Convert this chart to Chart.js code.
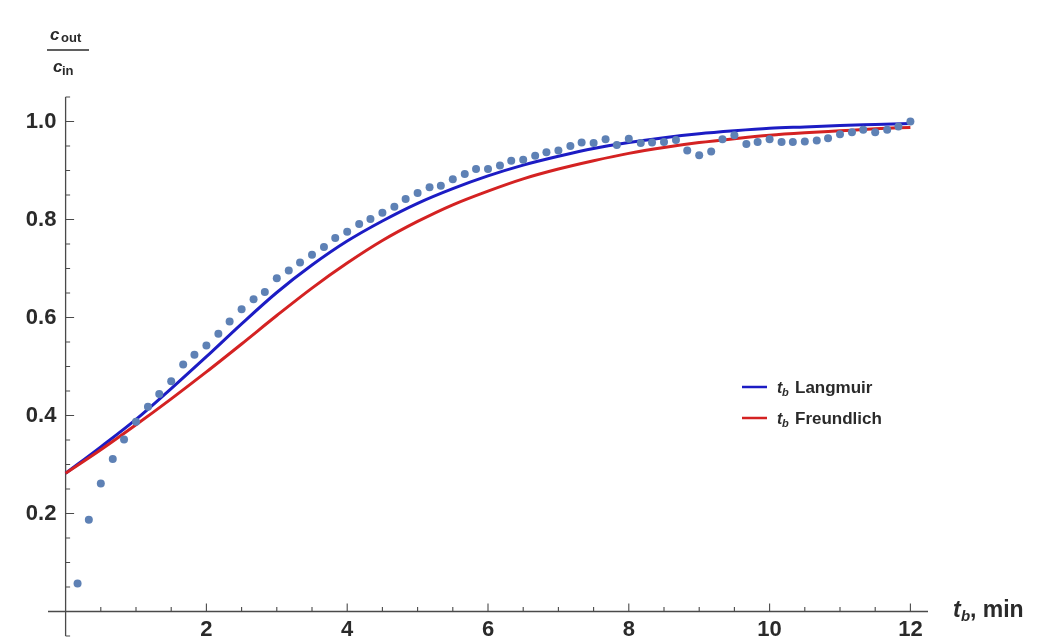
<!DOCTYPE html>
<html>
<head>
<meta charset="utf-8">
<script src="https://cdn.jsdelivr.net/npm/chart.js@4/dist/chart.umd.min.js"></script>
<style>
  html, body { margin: 0; padding: 0; background: #fff; }
  #wrap { width: 1051px; height: 640px; position: relative; }
</style>
</head>
<body>
<div id="wrap"><canvas id="chart" width="1051" height="640"></canvas></div>
<script>
// measured breakthrough points (t in min, c_out/c_in)
const pointTime = [0.17, 0.33, 0.5, 0.67, 0.83, 1.0, 1.17, 1.33, 1.5, 1.67, 1.83, 2.0, 2.17, 2.33, 2.5, 2.67, 2.83, 3.0,
  3.17, 3.33, 3.5, 3.67, 3.83, 4.0, 4.17, 4.33, 4.5, 4.67, 4.83, 5.0, 5.17, 5.33, 5.5, 5.67, 5.83, 6.0,
  6.17, 6.33, 6.5, 6.67, 6.83, 7.0, 7.17, 7.33, 7.5, 7.67, 7.83, 8.0, 8.17, 8.33, 8.5, 8.67, 8.83, 9.0,
  9.17, 9.33, 9.5, 9.67, 9.83, 10.0, 10.17, 10.33, 10.5, 10.67, 10.83, 11.0, 11.17, 11.33, 11.5, 11.67, 11.83, 12.0];
const pointRatio = [0.057, 0.187, 0.261, 0.311, 0.351, 0.387, 0.418, 0.444, 0.470, 0.504, 0.524, 0.543, 0.567, 0.592, 0.617, 0.637, 0.652, 0.680,
  0.696, 0.712, 0.728, 0.744, 0.762, 0.775, 0.791, 0.801, 0.814, 0.826, 0.842, 0.854, 0.866, 0.869, 0.882, 0.893, 0.903, 0.903,
  0.910, 0.920, 0.922, 0.930, 0.937, 0.941, 0.950, 0.957, 0.956, 0.964, 0.952, 0.965, 0.956, 0.957, 0.958, 0.962, 0.941, 0.931,
  0.939, 0.964, 0.972, 0.954, 0.958, 0.964, 0.958, 0.958, 0.959, 0.961, 0.966, 0.974, 0.978, 0.983, 0.978, 0.983, 0.990, 1.000];

// model curves, every half minute
const curveTime = [0, 0.5, 1, 1.5, 2, 2.5, 3, 3.5, 4, 4.5, 5, 5.5, 6, 6.5, 7, 7.5, 8, 8.5, 9, 9.5, 10, 10.5, 11, 11.5, 12];
const langmuir = [0.282, 0.336, 0.392, 0.455, 0.520, 0.587, 0.651, 0.707, 0.756, 0.797, 0.833, 0.863, 0.889, 0.911, 0.929,
  0.945, 0.957, 0.967, 0.975, 0.981, 0.986, 0.989, 0.992, 0.994, 0.996];
const freundlich = [0.282, 0.330, 0.381, 0.434, 0.489, 0.546, 0.604, 0.660, 0.711, 0.757, 0.796, 0.830, 0.858, 0.883, 0.903,
  0.920, 0.935, 0.947, 0.957, 0.965, 0.972, 0.977, 0.981, 0.985, 0.988];

const xLabels = [2, 4, 6, 8, 10, 12];
const yLabels = [0.2, 0.4, 0.6, 0.8, 1.0];
const seriesNames = ['Langmuir', 'Freundlich'];

const axisColor = '#4a4a4a';
const textColor = '#2a2a2a';
const blue = '#1c1cc4';
const red = '#d42222';
const dotColor = '#5e81b5';
const fontFamily = '"Liberation Sans", Arial, sans-serif';

const toXY = (xs, ys) => xs.map((x, i) => ({ x: x, y: ys[i] }));

// axes crossing at the origin, with inward ticks, like Mathematica
const axesPlugin = {
  id: 'axesPlugin',
  beforeDatasetsDraw(chart) {
    const { ctx, chartArea, scales: { x, y } } = chart;
    const x0 = x.getPixelForValue(0);
    const y0 = y.getPixelForValue(0);
    ctx.save();
    ctx.strokeStyle = axisColor;
    ctx.lineWidth = 1.3;
    ctx.beginPath();
    ctx.moveTo(chartArea.left, y0);
    ctx.lineTo(chartArea.right, y0);
    ctx.moveTo(x0, chartArea.top);
    ctx.lineTo(x0, chartArea.bottom);
    ctx.stroke();
    ctx.lineWidth = 1.1;
    ctx.beginPath();
    for (let i = 1; i <= 24; i++) {
      const v = i * 0.5;
      const px = x.getPixelForValue(v);
      const len = xLabels.includes(v) ? 8 : 4.5;
      ctx.moveTo(px, y0);
      ctx.lineTo(px, y0 - len);
    }
    for (let i = -1; i <= 21; i++) {
      if (i === 0) continue;
      const v = Math.round(i * 5) / 100;
      const py = y.getPixelForValue(v);
      const len = yLabels.includes(v) ? 8.5 : 4.5;
      ctx.moveTo(x0, py);
      ctx.lineTo(x0 + len, py);
    }
    ctx.stroke();
    ctx.restore();
  },
  afterDraw(chart) {
    const { ctx } = chart;
    ctx.save();
    ctx.fillStyle = textColor;
    ctx.textBaseline = 'alphabetic';
    // y axis label: c_out / c_in
    ctx.font = 'bold italic 17px ' + fontFamily;
    ctx.fillText('c', 50, 40);
    ctx.fillText('c', 53, 72);
    ctx.font = 'bold 13px ' + fontFamily;
    ctx.fillText('out', 61, 42);
    ctx.fillText('in', 62, 75);
    ctx.strokeStyle = textColor;
    ctx.lineWidth = 1.4;
    ctx.beginPath();
    ctx.moveTo(47, 50);
    ctx.lineTo(89, 50);
    ctx.stroke();
    // x axis label: t_b, min
    ctx.font = 'bold italic 23px ' + fontFamily;
    ctx.fillText('t', 953, 617);
    ctx.font = 'bold italic 15px ' + fontFamily;
    ctx.fillText('b', 961, 621);
    ctx.font = 'bold 23px ' + fontFamily;
    ctx.fillText(', min', 970, 617);
    // legend
    const rows = [[blue, 387], [red, 418]];
    rows.forEach(([col, ly], i) => {
      ctx.strokeStyle = col;
      ctx.lineWidth = 2.5;
      ctx.beginPath();
      ctx.moveTo(742, ly);
      ctx.lineTo(767, ly);
      ctx.stroke();
      ctx.fillStyle = textColor;
      ctx.font = 'bold italic 16px ' + fontFamily;
      ctx.fillText('t', 777, ly + 6);
      ctx.font = 'bold italic 11px ' + fontFamily;
      ctx.fillText('b', 782, ly + 9);
      ctx.font = 'bold 17px ' + fontFamily;
      ctx.fillText(seriesNames[i], 795, ly + 6);
    });
    ctx.restore();
  }
};

const tickFont = { family: fontFamily, size: 22, weight: 'bold' };

new Chart(document.getElementById('chart').getContext('2d'), {
  data: {
    datasets: [
      {
        type: 'scatter',
        label: 'data',
        data: toXY(pointTime, pointRatio),
        backgroundColor: dotColor,
        borderWidth: 0,
        pointRadius: 4,
        pointHoverRadius: 4
      },
      {
        type: 'line',
        label: seriesNames[1],
        data: toXY(curveTime, freundlich),
        borderColor: red,
        borderWidth: 3,
        pointRadius: 0,
        fill: false,
        cubicInterpolationMode: 'monotone'
      },
      {
        type: 'line',
        label: seriesNames[0],
        data: toXY(curveTime, langmuir),
        borderColor: blue,
        borderWidth: 3,
        pointRadius: 0,
        fill: false,
        cubicInterpolationMode: 'monotone'
      }
    ]
  },
  options: {
    responsive: false,
    animation: false,
    layout: { padding: { left: 48, right: 123, top: 97, bottom: 3 } },
    plugins: { legend: { display: false }, tooltip: { enabled: false } },
    scales: {
      x: {
        type: 'linear',
        min: -0.25,
        max: 12.25,
        position: { y: 0 },
        grid: { display: false },
        border: { display: false },
        afterBuildTicks: (scale) => { scale.ticks = xLabels.map(v => ({ value: v })); },
        afterFit: (scale) => { scale.height = 0; scale.paddingLeft = 0; scale.paddingRight = 0; },
        ticks: { font: tickFont, color: textColor, padding: -3, maxRotation: 0, autoSkip: false }
      },
      y: {
        type: 'linear',
        min: -0.05,
        max: 1.05,
        position: { x: -0.13 },
        grid: { display: false },
        border: { display: false },
        afterBuildTicks: (scale) => { scale.ticks = yLabels.map(v => ({ value: v })); },
        afterFit: (scale) => { scale.width = 0; scale.paddingTop = 0; scale.paddingBottom = 0; },
        ticks: { font: tickFont, color: textColor, padding: 0, autoSkip: false,
          callback: (v) => v.toFixed(1) }
      }
    }
  },
  plugins: [axesPlugin]
});
</script>
</body>
</html>
